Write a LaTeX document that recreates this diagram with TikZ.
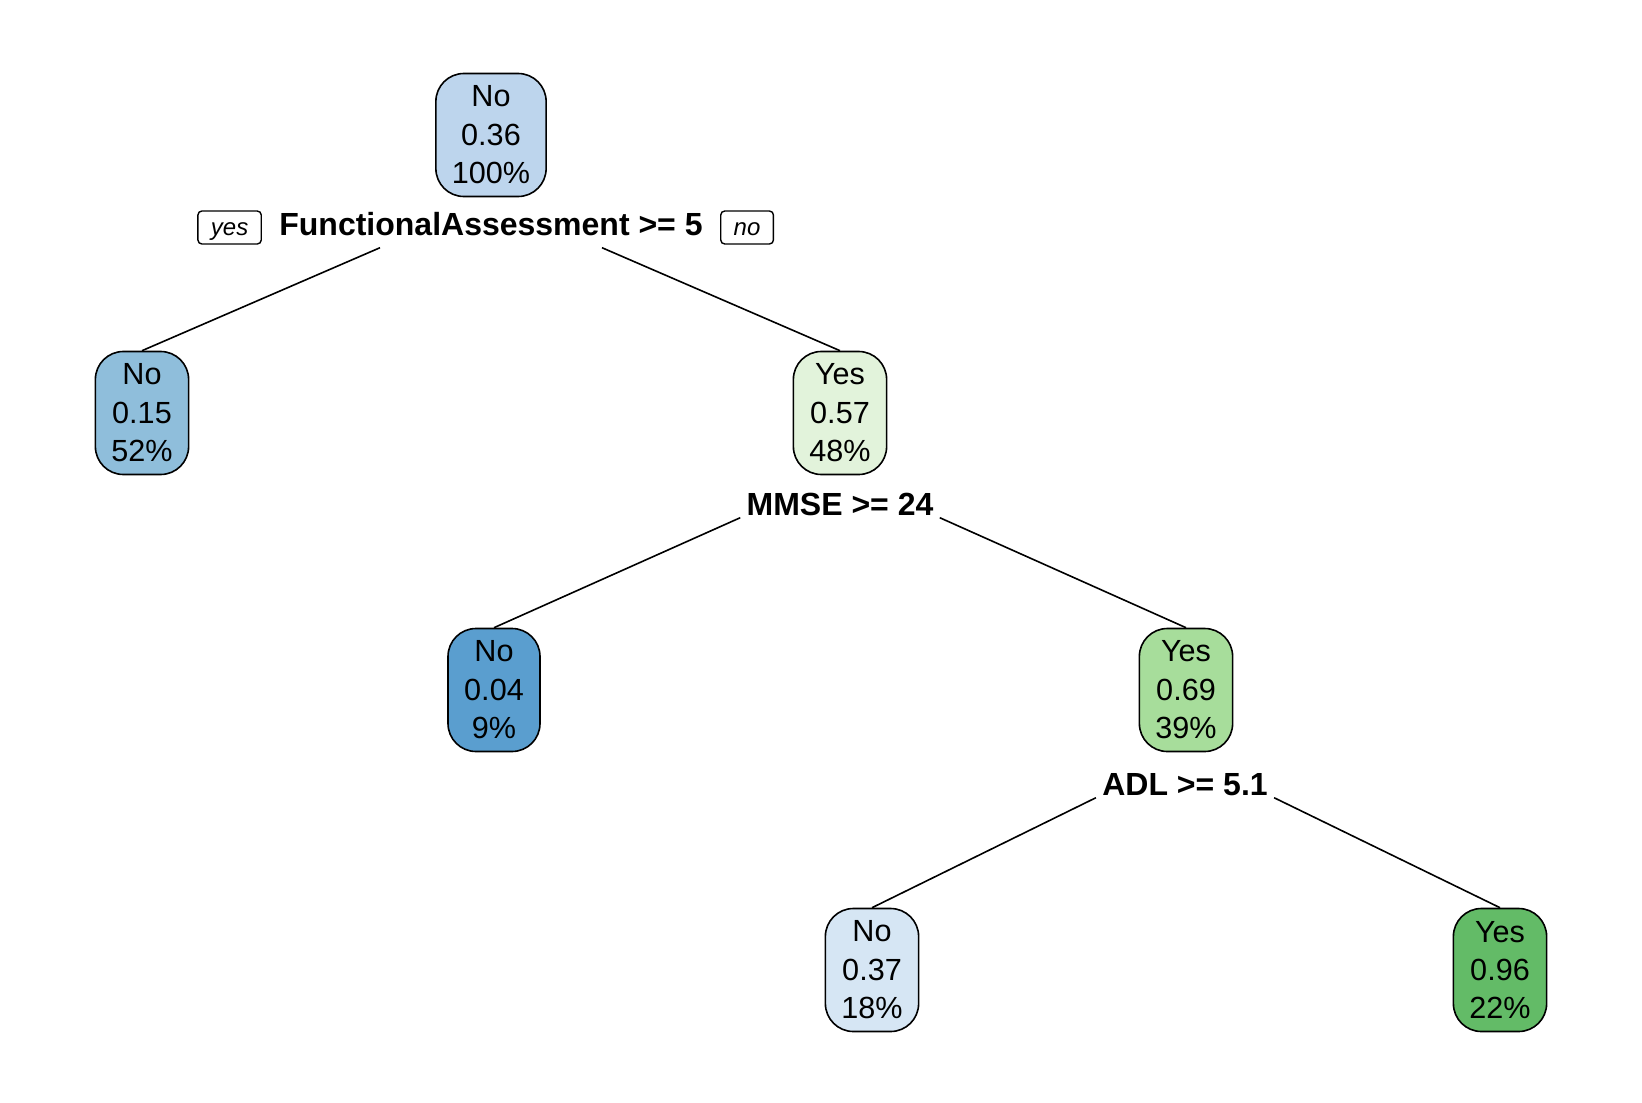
\documentclass[tikz,border=0pt]{standalone}
\usepackage{fontspec}
\setmainfont{Liberation Sans}
\usepackage{tikz}
\usetikzlibrary{positioning}

\definecolor{rootc}{HTML}{BDD5ED}
\definecolor{noA}{HTML}{8FBEDB}
\definecolor{noB}{HTML}{5A9ECF}
\definecolor{noC}{HTML}{D6E6F4}
\definecolor{yesA}{HTML}{E2F3DB}
\definecolor{yesB}{HTML}{A7DD9B}
\definecolor{yesC}{HTML}{63BB67}

\tikzset{
  treebox/.style={draw, line width=0.8pt, rounded corners=14pt, align=center,
    minimum width=46pt, minimum height=61.5pt, inner xsep=8pt, inner ysep=0pt,
    font=\fontsize{15.3}{19.2}\selectfont},
  split/.style={anchor=base, inner xsep=3pt, inner ysep=1pt,
    font=\fontsize{16}{19}\selectfont\bfseries},
  tag/.style={draw, line width=0.7pt, rounded corners=2pt, inner xsep=6.5pt,
    inner ysep=2pt, text height=10pt, text depth=2.5pt,
    font=\fontsize{12}{14}\selectfont\itshape},
  branch/.style={line width=0.8pt}
}

\begin{document}
\begin{tikzpicture}[x=0.5pt, y=-0.5pt]
    \useasboundingbox (0,0) rectangle (1642,1102);

    \node[treebox, fill=rootc] (t1) at (491,135) {No\\0.36\\100\%};
    \node[treebox, fill=noA]  (t2) at (142,413) {No\\0.15\\52\%};
    \node[treebox, fill=yesA] (t3) at (840,413) {Yes\\0.57\\48\%};
    \node[treebox, fill=noB]  (t6) at (494,690) {No\\0.04\\9\%};
    \node[treebox, fill=yesB] (t7) at (1186,690) {Yes\\0.69\\39\%};
    \node[treebox, fill=noC]  (t14) at (872,970) {No\\0.37\\18\%};
    \node[treebox, fill=yesC] (t15) at (1500,970) {Yes\\0.96\\22\%};

    % Split labels
    \node[split] (fa) at (491,235) {FunctionalAssessment >= 5};
    \node[split] (mmse) at (840,515) {MMSE >= 24};
    \node[split] (adl) at (1185,795) {ADL >= 5.1};
    \node[tag, left=5.5pt of fa.base west, anchor=base east] (yes) {yes};
    \node[tag, right=5.5pt of fa.base east, anchor=base west] (no) {no};

    % Connect the nodes
    \coordinate (fa-l) at ([xshift=-55.5pt, yshift=-5pt]fa.south);
    \coordinate (fa-r) at ([xshift=55.5pt, yshift=-5pt]fa.south);
    \draw[branch] (fa-l) -- (t2.north) ; %
    \draw[branch] (fa-r) -- (t3.north) ; %
    \draw[branch] (mmse.south west) -- (t6.north) ; %
    \draw[branch] (mmse.south east) -- (t7.north) ; %
    \draw[branch] (adl.south west) -- (t14.north) ; %
    \draw[branch] (adl.south east) -- (t15.north) ; %
\end{tikzpicture}
\end{document}
